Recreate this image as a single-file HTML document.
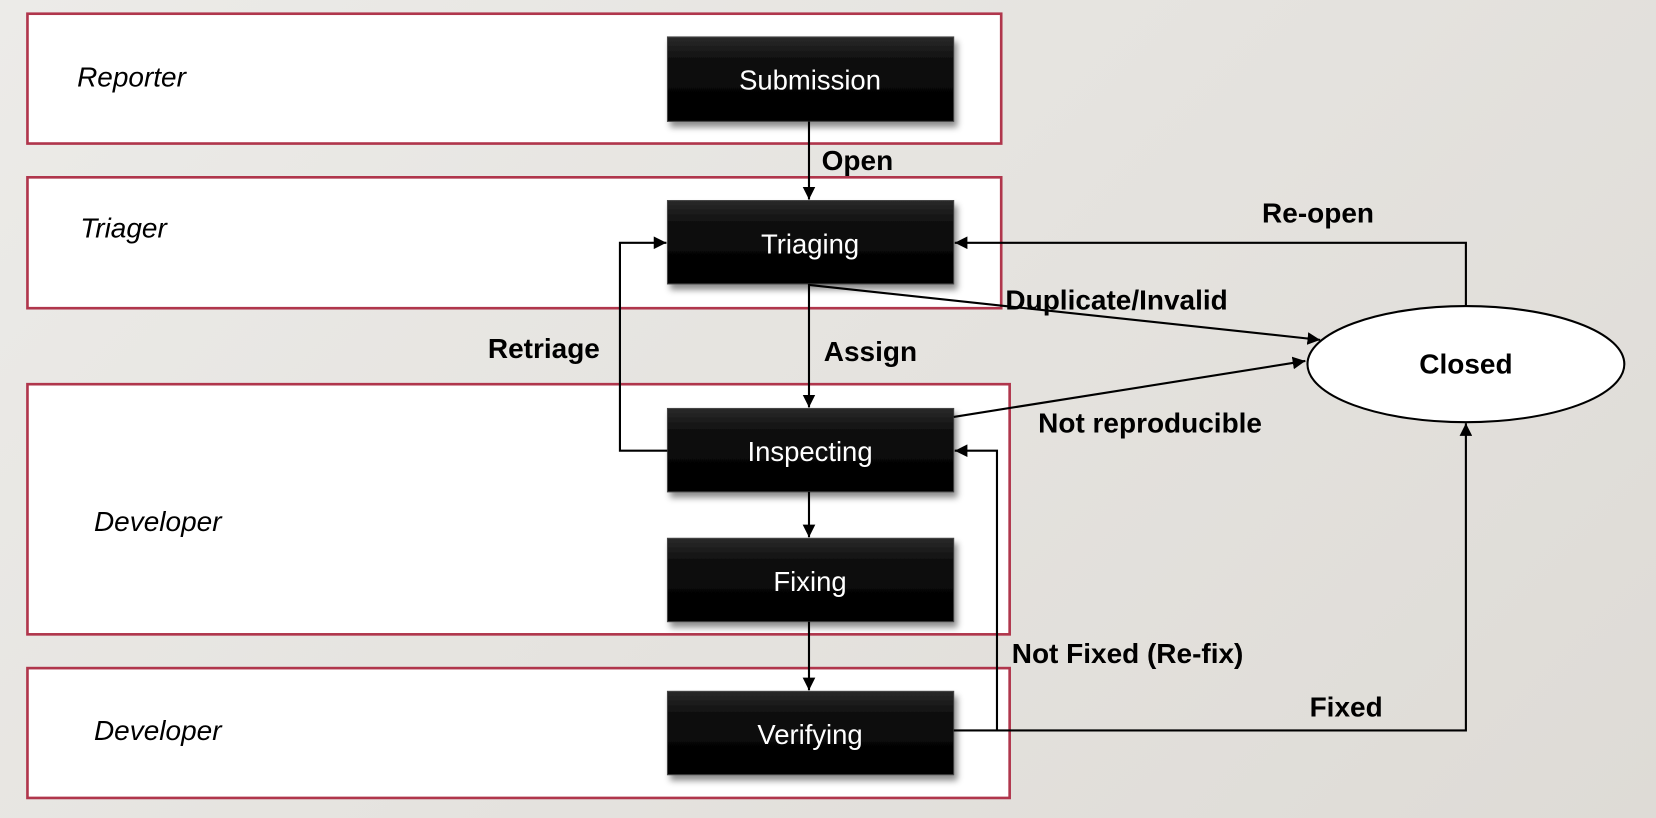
<!DOCTYPE html>
<html><head><meta charset="utf-8"><style>
html,body{margin:0;padding:0;width:1656px;height:818px;overflow:hidden;background:linear-gradient(135deg,#ecebe8,#dedbd6);}
svg{display:block}
text{font-family:"Liberation Sans",Arial,sans-serif;font-size:26.5px}
.l{font-style:italic;fill:#000}
.b{font-weight:bold;fill:#000}
.n{fill:#fff;text-anchor:middle;font-size:26px}
</style></head><body>
<svg width="1656" height="818" viewBox="0 0 1568 775" preserveAspectRatio="none">
<defs>
<linearGradient id="g" x1="0" y1="0" x2="0" y2="1"><stop offset="0" stop-color="#2a2a2a"/><stop offset="0.3" stop-color="#0c0c0c"/><stop offset="1" stop-color="#000"/></linearGradient>
<filter id="s" x="-10%" y="-20%" width="130%" height="150%"><feDropShadow dx="3" dy="5" stdDeviation="3" flood-opacity="0.45"/></filter>
<marker id="a" viewBox="0 0 10 10" refX="10" refY="5" markerWidth="12" markerHeight="12" markerUnits="userSpaceOnUse" orient="auto"><path d="M0,0L10,5L0,10z" fill="#000"/></marker>
</defs>
<g fill="#fff" stroke="#b0364c" stroke-width="2.5">
<rect x="26" y="13" width="922" height="123"/>
<rect x="26" y="168" width="922" height="124"/>
<rect x="26" y="364" width="930" height="237"/>
<rect x="26" y="633" width="930" height="123"/>
</g>
<text class="l" x="73" y="82">Reporter</text>
<text class="l" x="76" y="225">Triager</text>
<text class="l" x="89" y="503">Developer</text>
<text class="l" x="89" y="701">Developer</text>
<g filter="url(#s)" fill="url(#g)" stroke="#444" stroke-width="1">
<rect x="632" y="35" width="271" height="80"/>
<rect x="632" y="190" width="271" height="79"/>
<rect x="632" y="387" width="271" height="79"/>
<rect x="632" y="510" width="271" height="79"/>
<rect x="632" y="655" width="271" height="79"/>
</g>
<text class="n" x="767" y="85">Submission</text>
<text class="n" x="767" y="240">Triaging</text>
<text class="n" x="767" y="437">Inspecting</text>
<text class="n" x="767" y="560">Fixing</text>
<text class="n" x="767" y="705">Verifying</text>
<ellipse cx="1388" cy="345" rx="150" ry="55" fill="#fff" stroke="#000" stroke-width="2"/>
<text class="b" x="1388" y="354" text-anchor="middle">Closed</text>
<g stroke="#000" stroke-width="2" fill="none" marker-end="url(#a)">
<line x1="766" y1="115" x2="766" y2="189"/>
<line x1="766" y1="269" x2="766" y2="386"/>
<line x1="766" y1="466" x2="766" y2="509"/>
<line x1="766" y1="589" x2="766" y2="654"/>
<polyline points="632,427 587,427 587,230 631,230"/>
<polyline points="1388,290 1388,230 904,230"/>
<line x1="766" y1="270" x2="1250" y2="322"/>
<line x1="903" y1="395" x2="1236" y2="342"/>
<polyline points="903,692 944,692 944,427 904,427"/>
<polyline points="944,692 1388,692 1388,401"/>
</g>
<text class="b" x="778" y="161">Open</text>
<text class="b" x="462" y="339">Retriage</text>
<text class="b" x="780" y="342">Assign</text>
<text class="b" x="952" y="293">Duplicate/Invalid</text>
<text class="b" x="1195" y="211">Re-open</text>
<text class="b" x="983" y="410">Not reproducible</text>
<text class="b" x="958" y="628">Not Fixed (Re-fix)</text>
<text class="b" x="1240" y="679">Fixed</text>
</svg>
</body></html>
